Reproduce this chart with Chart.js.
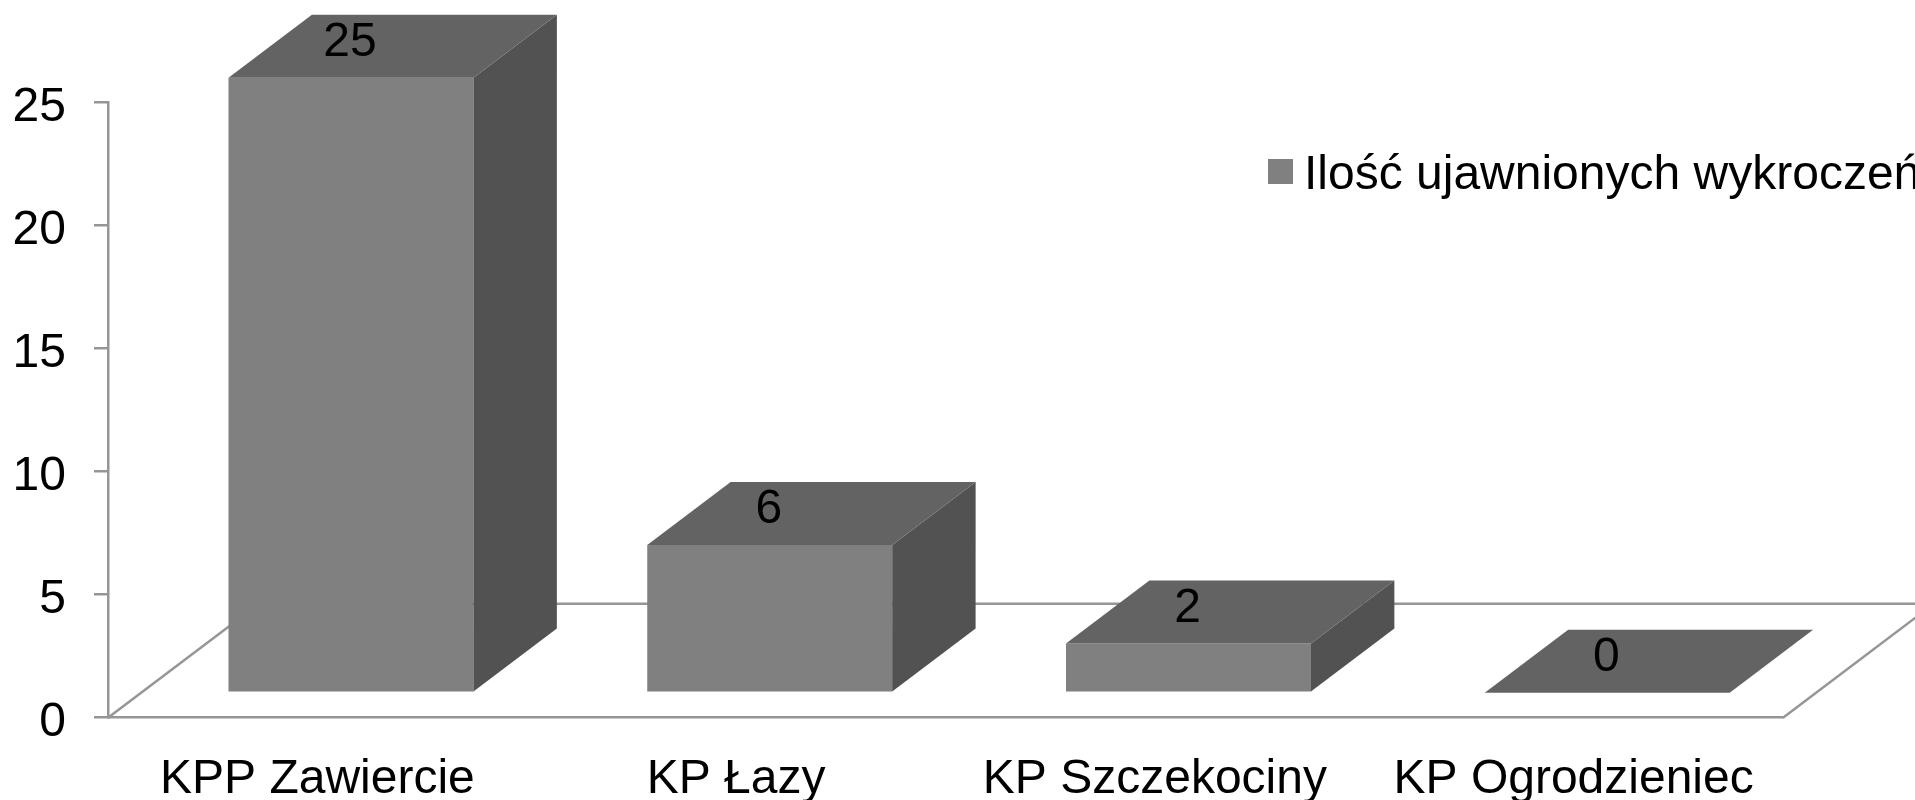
<!DOCTYPE html>
<html>
<head>
<meta charset="utf-8">
<script src="https://cdn.jsdelivr.net/npm/chart.js@4"></script>
<style>
    html, body { margin: 0; background: #fff; overflow: hidden; }
    canvas { display: block; }
</style>
</head>
<body>
<canvas id="chart" width="1915" height="800"></canvas>
<script>
const categories = ["KPP Zawiercie", "KP Łazy", "KP Szczekociny", "KP Ogrodzieniec"];
const values = [25, 6, 2, 0];
const seriesName = "Ilość ujawnionych wykroczeń";
const yTicks = [0, 5, 10, 15, 20, 25];

const FONT = "48px 'Liberation Sans'";
const AXIS = "#969696";
const FRONT = "#808080";
const TOP = "#636363";
const SIDE = "#525252";
// fake 3d offsets
const DEPTH_X = 83.4, DEPTH_Y = 63;
const INSET_X = 33.6, INSET_Y = 25;
const FLOOR_X = 151, FLOOR_Y = 114;

const fake3d = {
    id: "fake3d",
    beforeDatasetsDraw(chart) {
        const ctx = chart.ctx;
        const area = chart.chartArea;
        const y0 = chart.scales.y.getPixelForValue(0);

        // floor outline
        ctx.save();
        ctx.strokeStyle = AXIS;
        ctx.lineWidth = 2.5;
        ctx.beginPath();
        ctx.moveTo(area.left, y0);
        ctx.lineTo(area.left + FLOOR_X, y0 - FLOOR_Y);
        ctx.lineTo(area.right + FLOOR_X, y0 - FLOOR_Y);
        ctx.lineTo(area.right, y0);
        ctx.stroke();
        ctx.restore();

        // bars stand inside the floor
        ctx.save();
        ctx.translate(INSET_X, -INSET_Y);
    },
    afterDatasetsDraw(chart) {
        const ctx = chart.ctx;
        const bars = chart.getDatasetMeta(0).data;

        bars.forEach((bar, i) => {
            const left = bar.x - bar.width / 2;
            const right = bar.x + bar.width / 2;

            ctx.fillStyle = SIDE;
            ctx.beginPath();
            ctx.moveTo(right, bar.base);
            ctx.lineTo(right + DEPTH_X, bar.base - DEPTH_Y);
            ctx.lineTo(right + DEPTH_X, bar.y - DEPTH_Y);
            ctx.lineTo(right, bar.y);
            ctx.closePath();
            ctx.fill();

            ctx.fillStyle = TOP;
            ctx.beginPath();
            ctx.moveTo(left, bar.y);
            ctx.lineTo(left + DEPTH_X, bar.y - DEPTH_Y);
            ctx.lineTo(right + DEPTH_X, bar.y - DEPTH_Y);
            ctx.lineTo(right, bar.y);
            ctx.closePath();
            ctx.fill();

            ctx.fillStyle = "#000";
            ctx.font = FONT;
            ctx.textAlign = "center";
            ctx.textBaseline = "middle";
            ctx.fillText(String(values[i]), bar.x - 1, bar.y - 35);
        });
        ctx.restore();

        // legend, cut by the right edge like the original
        ctx.save();
        ctx.fillStyle = FRONT;
        ctx.fillRect(1268, 159, 25, 25);
        ctx.fillStyle = "#000";
        ctx.font = FONT;
        ctx.textAlign = "left";
        ctx.textBaseline = "middle";
        ctx.fillText(chart.data.datasets[0].label, 1304, 176);
        ctx.restore();
    }
};

new Chart(document.getElementById("chart"), {
    type: "bar",
    data: {
        labels: categories,
        datasets: [{
            label: seriesName,
            data: values,
            backgroundColor: FRONT,
            borderWidth: 0,
            barPercentage: 0.585,
            categoryPercentage: 1,
            clip: false
        }]
    },
    options: {
        responsive: false,
        animation: false,
        layout: { padding: { top: 102.7, right: 132, left: 0, bottom: 0 } },
        plugins: {
            legend: { display: false },
            tooltip: { enabled: false }
        },
        scales: {
            x: {
                afterFit: s => { s.height = 82.3; },
                grid: { display: false },
                border: { color: AXIS, width: 2.5 },
                ticks: {
                    color: "#000",
                    font: { family: "Liberation Sans", size: 48 },
                    padding: 25,
                    autoSkip: false,
                    maxRotation: 0
                }
            },
            y: {
                min: 0,
                max: 25,
                afterFit: s => { s.width = 108; },
                afterBuildTicks: s => { s.ticks = yTicks.map(v => ({ value: v })); },
                grid: { drawOnChartArea: false, color: AXIS, lineWidth: 2.5, tickLength: 14 },
                border: { color: AXIS, width: 2.5 },
                ticks: {
                    color: "#000",
                    font: { family: "Liberation Sans", size: 48 },
                    padding: 28,
                    labelOffset: 5
                }
            }
        }
    },
    plugins: [fake3d]
});
</script>
</body>
</html>
